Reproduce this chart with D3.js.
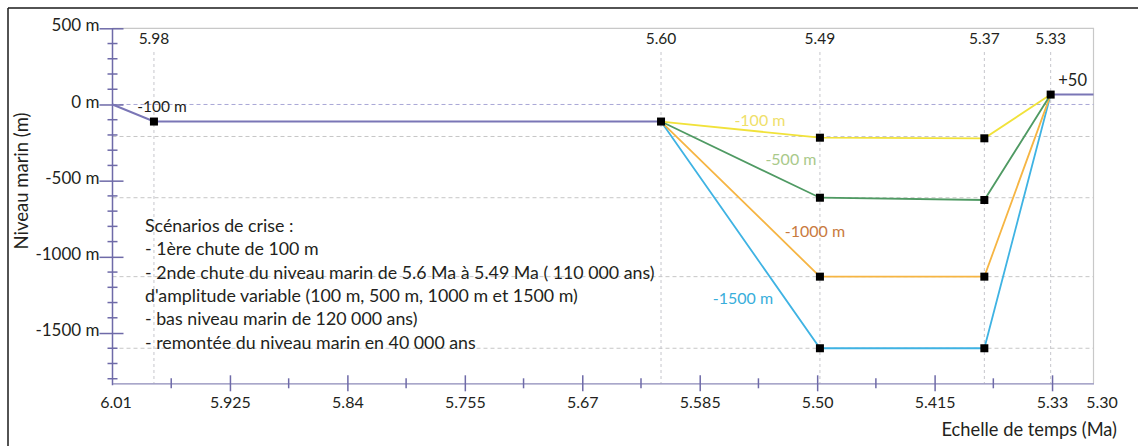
<!DOCTYPE html>
<html>
<head>
<meta charset="utf-8">
<script src="https://cdn.jsdelivr.net/npm/d3@7"></script>
<style>
  html, body { margin: 0; padding: 0; background: #fff; }
  svg { display: block; font-family: Lato, "Open Sans", sans-serif; }
</style>
</head>
<body>
<svg id="chart" width="1138" height="446"></svg>
<script>
// ---------- data ----------
const xTickValues = [6.01, 5.925, 5.84, 5.755, 5.67, 5.585, 5.50, 5.415, 5.33, 5.30];
const xTickLabels = ["6.01", "5.925", "5.84", "5.755", "5.67", "5.585", "5.50", "5.415", "5.33", "5.30"];
const xMinorValues = [5.9675, 5.8825, 5.7975, 5.7125, 5.6275, 5.5425, 5.4575, 5.3725];

const yTickValues = [500, 0, -500, -1000, -1500];
const yTickLabels = ["500 m", "0 m", "-500 m", "-1000 m", "-1500 m"];

const keyTimes = [5.98, 5.613, 5.498, 5.379, 5.331];
const keyTimeLabels = ["5.98", "5.60", "5.49", "5.37", "5.33"];

const baseTimes = [6.01, 5.98, 5.613];
const baseLevels = [0, -112, -112];
const tailTimes = [5.331, 5.30];
const tailLevels = [65, 65];

const scenarioTimes = [5.613, 5.498, 5.379, 5.331];
const scenarioNames = ["-100 m", "-500 m", "-1000 m", "-1500 m"];
const yellowLevels = [-112, -218, -222, 65];
const greenLevels  = [-112, -612, -627, 65];
const orangeLevels = [-112, -1130, -1130, 65];
const blueLevels   = [-112, -1600, -1600, 65];

const gridLevels = [0, -210, -612, -1130, -1600];

const firstDropLabel = "-100 m";
const riseLabel = "+50";

const noteLines = [
  "Scénarios de crise :",
  "- 1ère chute de 100 m",
  "- 2nde chute du niveau marin de 5.6 Ma à 5.49 Ma ( 110 000 ans)",
  "d'amplitude variable (100 m, 500 m, 1000 m et 1500 m)",
  "- bas niveau marin de 120 000 ans)",
  "- remontée du niveau marin en 40 000 ans"
];
const xTitle = "Echelle de temps (Ma)";
const yTitle = "Niveau marin (m)";

// ---------- layout ----------
const svg = d3.select("#chart");
const textColor = "#231f20";
const axisColor = "#6e6aa8";

const x = d3.scaleLinear().domain([6.01, 5.30]).range([112.5, 1093.5]);
const y = d3.scaleLinear().domain([-1830, 500]).range([383.3, 28.3]);

const pLeft = x(6.01), pRight = x(5.30), pTop = y(500), pBottom = y(-1830);

// outer black frame (top + left visible)
svg.append("line").attr("x1", 8).attr("x2", 1138).attr("y1", 8).attr("y2", 8)
  .attr("stroke", "#1a1a1a").attr("stroke-width", 1.5);
svg.append("line").attr("x1", 8).attr("x2", 8).attr("y1", 8).attr("y2", 446)
  .attr("stroke", "#1a1a1a").attr("stroke-width", 1.5);

// plot frame (top + right, light grey)
svg.append("path")
  .attr("d", `M${pLeft},${pTop}H${pRight}V${pBottom}`)
  .attr("fill", "none").attr("stroke", "#c8c8c8").attr("stroke-width", 1.2);

// horizontal dashed grid
svg.append("g").selectAll("line").data(gridLevels).join("line")
  .attr("x1", pLeft).attr("x2", pRight)
  .attr("y1", d => y(d)).attr("y2", d => y(d))
  .attr("stroke", (d, i) => i === 0 ? "#a9a7d6" : "#c6c6c6")
  .attr("stroke-width", 1)
  .attr("stroke-dasharray", "4,3");

// vertical dashed lines
svg.append("g").selectAll("line").data(keyTimes).join("line")
  .attr("x1", d => x(d)).attr("x2", d => x(d))
  .attr("y1", 52).attr("y2", pBottom)
  .attr("stroke", "#c6c6cc").attr("stroke-width", 1)
  .attr("stroke-dasharray", "3,3");

// top time labels
svg.append("g").selectAll("text").data(keyTimes).join("text")
  .attr("x", d => x(d)).attr("y", 44)
  .attr("text-anchor", "middle")
  .attr("font-size", 15.5).attr("fill", textColor)
  .text((d, i) => keyTimeLabels[i]);

// ---------- axes ----------
const yAxis = d3.axisLeft(y).tickValues(yTickValues)
  .tickFormat((d, i) => yTickLabels[i]).tickSizeOuter(0);
const gy = svg.append("g").attr("transform", `translate(${pLeft},0)`).call(yAxis);
gy.select(".domain").attr("stroke", axisColor).attr("stroke-width", 1.5)
  .attr("d", `M0,${pTop}V${pBottom + 2}`);
gy.selectAll(".tick line").attr("x1", -13).attr("x2", 11)
  .attr("stroke", axisColor).attr("stroke-width", 1.5);
gy.selectAll(".tick text").attr("x", -13).attr("dy", "0.15em")
  .attr("font-size", 17).attr("fill", textColor)
  .attr("font-family", "Lato, sans-serif");

const yMinor = d3.range(400, -1801, -100).filter(v => v % 500 !== 0);
svg.append("g").selectAll("line").data(yMinor).join("line")
  .attr("x1", pLeft - 5).attr("x2", pLeft + 5)
  .attr("y1", d => y(d)).attr("y2", d => y(d))
  .attr("stroke", axisColor).attr("stroke-width", 1.5);

const xAxis = d3.axisBottom(x).tickValues(xTickValues)
  .tickFormat((d, i) => xTickLabels[i]).tickSizeOuter(0);
const gx = svg.append("g").attr("transform", `translate(0,${pBottom})`).call(xAxis);
gx.select(".domain").attr("stroke", "#8c8ab8").attr("stroke-width", 1.2);
gx.selectAll(".tick line")
  .attr("y1", -8).attr("y2", 8)
  .attr("stroke", axisColor).attr("stroke-width", 1.5)
  .attr("display", d => (d === 6.01 || d === 5.30) ? "none" : null);
gx.selectAll(".tick text").attr("y", 25).attr("dy", 0)
  .attr("dx", d => d === 5.30 ? 8 : (d === 6.01 ? 3 : 0))
  .attr("font-size", 16).attr("fill", textColor)
  .attr("font-family", "Lato, sans-serif");

svg.append("g").selectAll("line").data(xMinorValues).join("line")
  .attr("x1", d => x(d)).attr("x2", d => x(d))
  .attr("y1", pBottom - 5).attr("y2", pBottom + 5)
  .attr("stroke", axisColor).attr("stroke-width", 1.5);

svg.append("text").attr("x", 1117).attr("y", 436)
  .attr("text-anchor", "end").attr("font-size", 18.3).attr("fill", textColor)
  .text(xTitle);
svg.append("text")
  .attr("transform", `translate(28,181) rotate(-90)`)
  .attr("text-anchor", "middle").attr("font-size", 18.5).attr("fill", textColor)
  .text(yTitle);

// ---------- lines ----------
const line = d3.line().x(d => x(d[0])).y(d => y(d[1]));
const zipPts = (ts, vs) => ts.map((t, i) => [t, vs[i]]);

const scenarios = [
  { name: scenarioNames[3], levels: blueLevels,   color: "#3fb3e3", label: "#38aedb", dx: -77, dy: -50 },
  { name: scenarioNames[2], levels: orangeLevels, color: "#f6b543", label: "#c97a3e", dx: -5,  dy: -45 },
  { name: scenarioNames[1], levels: greenLevels,  color: "#4f9a63", label: "#a9c98a", dx: -29, dy: -38 },
  { name: scenarioNames[0], levels: yellowLevels, color: "#f1e23a", label: "#efe06a", dx: -60, dy: -17 }
];

scenarios.forEach(s => {
  svg.append("path").datum(zipPts(scenarioTimes, s.levels))
    .attr("d", line).attr("fill", "none")
    .attr("stroke", s.color).attr("stroke-width", 1.8);
});

svg.append("path").datum(zipPts(baseTimes, baseLevels))
  .attr("d", line).attr("fill", "none")
  .attr("stroke", "#7a76b6").attr("stroke-width", 2);
svg.append("path").datum(zipPts(tailTimes, tailLevels))
  .attr("d", line).attr("fill", "none")
  .attr("stroke", "#7a76b6").attr("stroke-width", 2);

const markerPts = [
  [baseTimes[1], baseLevels[1]],
  [baseTimes[2], baseLevels[2]],
  ...scenarios.flatMap(s => [[scenarioTimes[1], s.levels[1]], [scenarioTimes[2], s.levels[2]]]),
  [scenarioTimes[3], tailLevels[0]]
];
svg.append("g").selectAll("rect").data(markerPts).join("rect")
  .attr("x", d => x(d[0]) - 4).attr("y", d => y(d[1]) - 4)
  .attr("width", 8).attr("height", 8).attr("fill", "#000");

scenarios.forEach(s => {
  svg.append("text")
    .attr("x", x(scenarioTimes[1]) + s.dx)
    .attr("y", y(s.levels[1]) + s.dy)
    .attr("dy", "0.35em")
    .attr("text-anchor", "middle").attr("font-size", 16)
    .attr("fill", s.label).text(s.name);
});

svg.append("text")
  .attr("x", x(baseTimes[1]) + 8).attr("y", y(baseLevels[1]) - 15).attr("dy", "0.35em")
  .attr("text-anchor", "middle").attr("font-size", 15.5).attr("fill", textColor)
  .text(firstDropLabel);
svg.append("text")
  .attr("x", x(tailTimes[0]) + 22).attr("y", y(tailLevels[0]) - 14).attr("dy", "0.35em")
  .attr("text-anchor", "middle").attr("font-size", 16.5).attr("fill", textColor)
  .text(riseLabel);

svg.append("text").attr("font-size", 17.8).attr("fill", textColor)
  .selectAll("tspan").data(noteLines).join("tspan")
  .attr("x", 145).attr("y", (d, i) => 232 + i * 23.3)
  .text(d => d);
</script>
</body>
</html>
